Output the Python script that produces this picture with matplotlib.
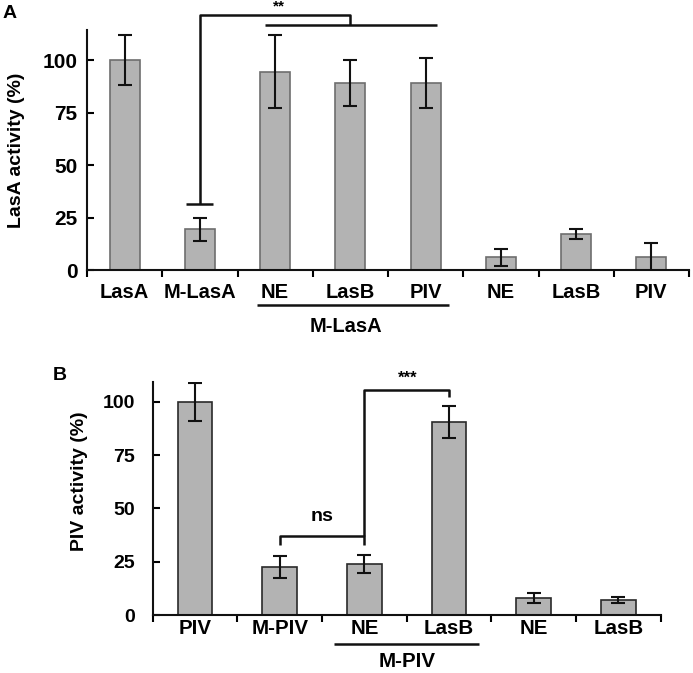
import matplotlib
matplotlib.use("Agg")
import matplotlib.pyplot as plt
import numpy as np

plt.rcParams['font.family'] = ['Liberation Sans', 'DejaVu Sans']
plt.rcParams['font.weight'] = 'bold'

# Panel A data
a_labels = ["LasA", "M-LasA", "NE", "LasB", "PIV", "NE", "LasB", "PIV"]
a_values = [100, 19.5, 94.5, 89, 89, 6, 17, 6]
a_errors = [12, 5.5, 17.5, 11, 12, 4, 2.4, 7]

# Panel B data
b_labels = ["PIV", "M-PIV", "NE", "LasB", "NE", "LasB"]
b_values = [100, 22.6, 23.8, 90.5, 8.1, 7]
b_errors = [9, 5.3, 4.2, 7.7, 2.3, 1.5]

W, H = 693, 673
fig = plt.figure(figsize=(W / 100, H / 100), dpi=100)

def px_axes(x0, y0, x1, y1):
    return fig.add_axes([x0 / W, 1 - y1 / H, (x1 - x0) / W, (y1 - y0) / H])

fill = "#b3b3b3"

def style(ax, labels, ymax, ylabel, ytfs, ypad, xtfs, xpad, lab_xy):
    n = len(labels)
    ax.set_xlim(0, n)
    ax.set_ylim(0, ymax)
    for s in ["top", "right"]:
        ax.spines[s].set_visible(False)
    for s in ["left", "bottom"]:
        ax.spines[s].set_linewidth(1.5)
        ax.spines[s].set_color("#111111")
    ax.set_yticks([0, 25, 50, 75, 100])
    ax.set_yticklabels(["0", "25", "50", "75", "100"], fontsize=ytfs, fontweight="bold")
    ax.tick_params(axis="y", direction="in", length=5, width=1.5, pad=ypad)
    ax.set_xticks(np.arange(0, n + 1))
    ax.set_xticklabels([])
    ax.tick_params(axis="x", which="major", direction="out", length=5, width=1.5)
    ax.set_xticks(np.arange(n) + 0.5, minor=True)
    ax.set_xticklabels(labels, minor=True, fontsize=xtfs, fontweight="bold")
    ax.tick_params(axis="x", which="minor", length=0, pad=xpad)
    ax.set_ylabel(ylabel, fontsize=14, fontweight="bold")
    ax.yaxis.set_label_coords(*lab_xy)

lk = dict(color="#111111", lw=1.8, clip_on=False, solid_capstyle="butt")
ek = dict(ecolor="#111111", elinewidth=1.5, capsize=5, capthick=1.5)

# ---------- Panel A ----------
axA = px_axes(87, 30, 689, 270)
xA = np.arange(len(a_labels)) + 0.5
axA.bar(xA, a_values, width=0.4, color=fill, edgecolor="#6e6e6e", linewidth=1.2,
        yerr=a_errors, error_kw=ek, zorder=2)
style(axA, a_labels, 114.3, "LasA activity (%)", 15, 7, 14.5, 9.5, (-0.103, 0.5))

# ** bracket
axA.plot([xA[1] - 0.18, xA[1] + 0.18], [31.4, 31.4], **lk)
axA.plot([xA[1], xA[1], 3.5, 3.5], [31.4, 121.4, 121.4, 116.7], **lk)
axA.plot([xA[2] - 0.13, xA[4] + 0.15], [116.7, 116.7], **lk)
axA.text(2.55, 125.5, "**", ha="center", va="center", fontsize=11, fontweight="bold")
# group underline
axA.plot([2.26, 4.81], [-16.7, -16.7], **lk)
axA.text(3.44, -27.1, "M-LasA", ha="center", va="center", fontsize=14.5, fontweight="bold",
         clip_on=False)
fig.text(3 / W, 1 - 13 / H, "A", fontsize=14, fontweight="bold", va="center", ha="left")

# ---------- Panel B ----------
axB = px_axes(152.7, 381.7, 660.7, 615)
xB = np.arange(len(b_labels)) + 0.5
axB.bar(xB, b_values, width=0.41, color=fill, edgecolor="#2a2a2a", linewidth=1.2,
        yerr=b_errors, error_kw=ek, zorder=2)
style(axB, b_labels, 109.4, "PIV activity (%)", 14, 13, 14.8, 3, (-0.127, 0.572))

# ns bracket
axB.plot([xB[1], xB[1], xB[2], xB[2]], [32.8, 37, 37, 32.8], **lk)
axB.text(2.0, 46, "ns", ha="center", va="center", fontsize=14, fontweight="bold")
# *** bracket
axB.plot([xB[2], xB[2], xB[3], xB[3]], [37, 105.5, 105.5, 102.3], **lk)
axB.text(3.01, 111, "***", ha="center", va="center", fontsize=12, fontweight="bold")
# group underline
axB.plot([2.14, 3.85], [-13.6, -13.6], **lk)
axB.text(3.01, -22, "M-PIV", ha="center", va="center", fontsize=14.8, fontweight="bold",
         clip_on=False)
fig.text(53 / W, 1 - 375 / H, "B", fontsize=14, fontweight="bold", va="center", ha="left")

fig.savefig("out.png", dpi=100, facecolor="white")
